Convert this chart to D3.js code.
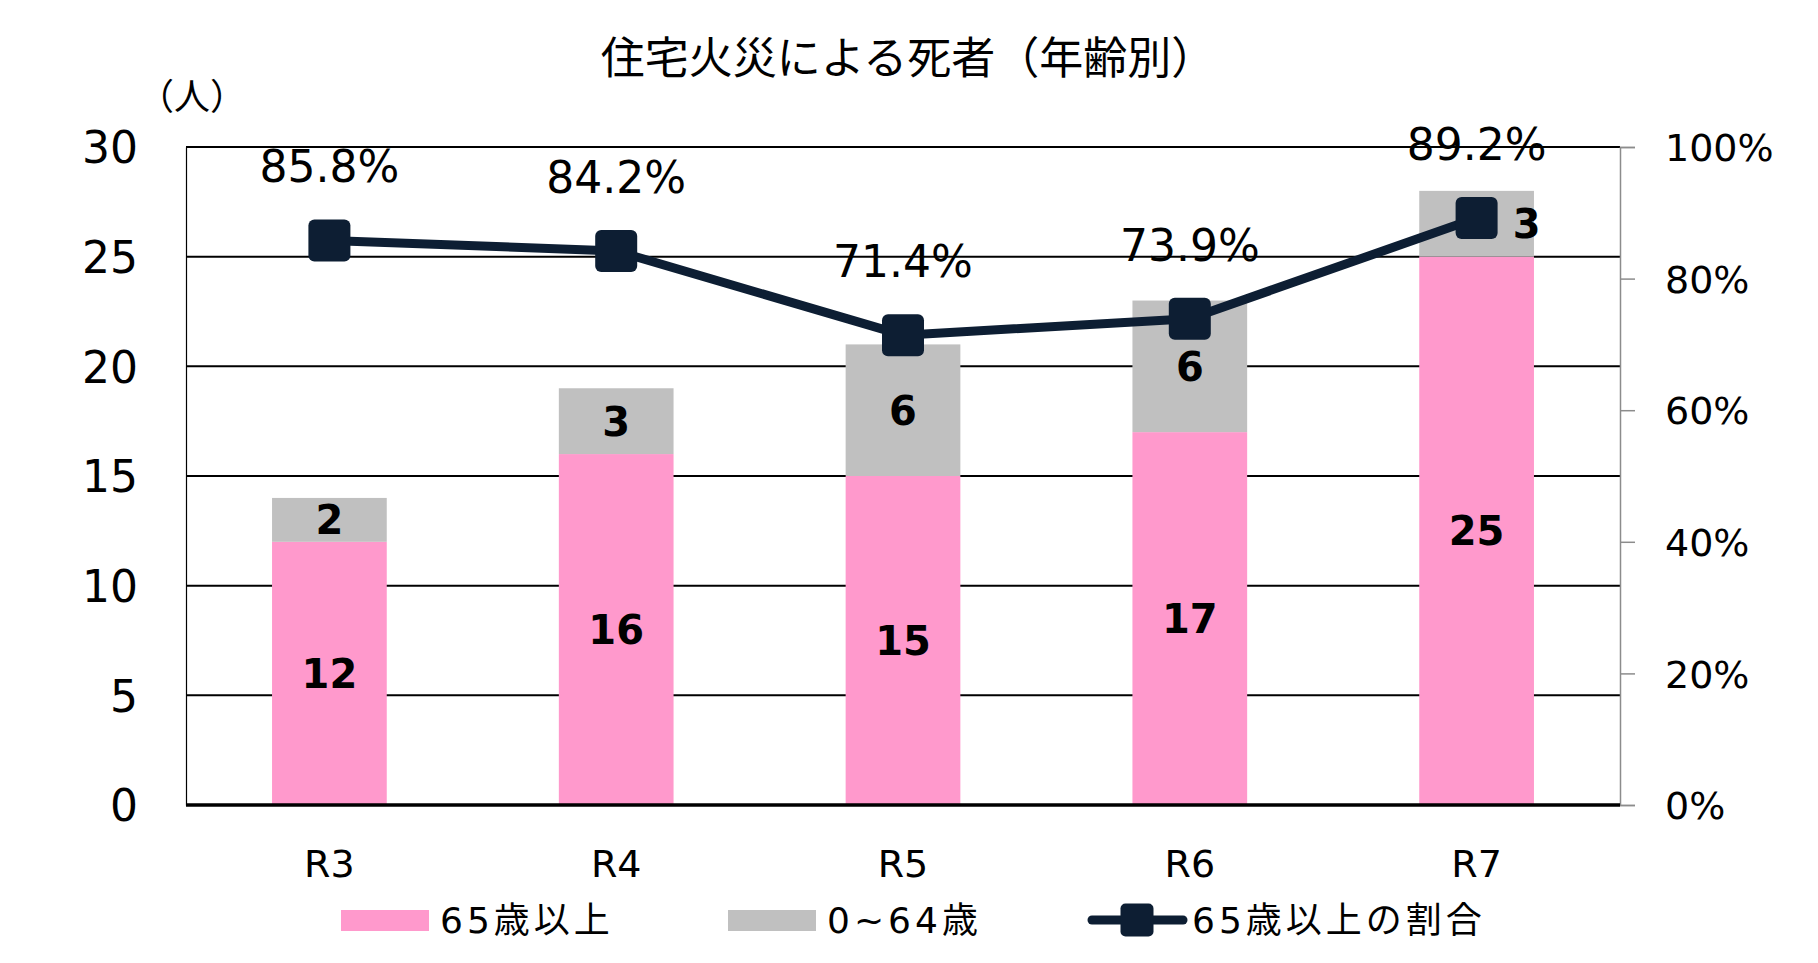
<!DOCTYPE html>
<html>
<head>
<meta charset="utf-8">
<script src="https://cdn.jsdelivr.net/npm/d3@7"></script>
<style>
  body { margin: 0; background: #fff; }
  svg { display: block; }
  text { fill: #000; }
</style>
</head>
<body>
<div id="chart"></div>
<script>
// data
const years = ["R3", "R4", "R5", "R6", "R7"];
const over65 = [12, 16, 15, 17, 25];
const under65 = [2, 3, 6, 6, 3];
const ratio = [0.858, 0.842, 0.714, 0.739, 0.892];
const countTicks = [0, 5, 10, 15, 20, 25, 30];
const ratioTicks = [0, 0.2, 0.4, 0.6, 0.8, 1];

let width = 1818;
let height = 963;
let plotLeft = 186, plotRight = 1620, plotTop = 147, plotBottom = 805;
let latin = "'DejaVu Sans', 'Noto Sans CJK JP', sans-serif";
let cjk = "'Noto Sans CJK JP', 'DejaVu Sans', sans-serif";
let pink = "#ff99cc", grey = "#c0c0c0", navy = "#0d1e33";

let svg = d3.select("#chart").append("svg")
  .attr("width", width)
  .attr("height", height);

let xScale = d3.scaleBand()
  .domain(years)
  .range([plotLeft, plotRight])
  .paddingInner(0.6)
  .paddingOuter(0.3);
let yScale = d3.scaleLinear().domain([0, 30]).range([plotBottom, plotTop]);
let y2Scale = d3.scaleLinear().domain([0, 1]).range([plotBottom, plotTop]);

let rows = years.map(function (d, i) {
  return { year: d, old: over65[i], young: under65[i], ratio: ratio[i] };
});

// gridlines
svg.append("g")
  .selectAll("line")
  .data(countTicks)
  .enter()
  .append("line")
  .attr("x1", plotLeft)
  .attr("x2", plotRight)
  .attr("y1", function (d) { return yScale(d); })
  .attr("y2", function (d) { return yScale(d); })
  .attr("stroke", "#000")
  .attr("stroke-width", 2);

// stacked bars
let bw = xScale.bandwidth();
svg.append("g").selectAll("rect")
  .data(rows).enter()
  .append("rect")
  .attr("x", function (d) { return xScale(d.year); })
  .attr("width", bw)
  .attr("y", function (d) { return yScale(d.old); })
  .attr("height", function (d) { return yScale(0) - yScale(d.old); })
  .attr("fill", pink);
svg.append("g").selectAll("rect")
  .data(rows).enter()
  .append("rect")
  .attr("x", function (d) { return xScale(d.year); })
  .attr("width", bw)
  .attr("y", function (d) { return yScale(d.old + d.young); })
  .attr("height", function (d) { return yScale(d.old) - yScale(d.old + d.young); })
  .attr("fill", grey);

// left axis
let yAxis = d3.axisLeft(yScale).tickValues(countTicks).tickSize(0).tickPadding(48);
let gy = svg.append("g")
  .attr("transform", "translate(" + plotLeft + ",0)")
  .call(yAxis);
gy.select(".domain").attr("stroke", "#000").attr("stroke-width", 1.2);
gy.selectAll("text")
  .attr("dy", "0.36em")
  .style("font-family", latin)
  .style("font-size", "44px");

// right axis
let y2Axis = d3.axisRight(y2Scale).tickValues(ratioTicks)
  .tickFormat(d3.format(".0%")).tickSize(15).tickPadding(30);
let gy2 = svg.append("g")
  .attr("transform", "translate(" + plotRight + ",0)")
  .call(y2Axis);
gy2.select(".domain").attr("stroke", "#8c8c8c").attr("stroke-width", 1.5);
gy2.selectAll(".tick line").attr("stroke", "#8c8c8c").attr("stroke-width", 1.5);
gy2.selectAll("text")
  .attr("dy", "0.36em")
  .style("font-family", latin)
  .style("font-size", "38px");

// bottom axis
let xAxis = d3.axisBottom(xScale).tickSize(0);
let gx = svg.append("g")
  .attr("transform", "translate(0," + plotBottom + ")")
  .call(xAxis);
gx.select(".domain").remove();
gx.selectAll("text")
  .attr("dy", null)
  .attr("y", 72)
  .style("font-family", latin)
  .style("font-size", "38px");
svg.append("line")
  .attr("x1", plotLeft).attr("x2", plotRight)
  .attr("y1", plotBottom).attr("y2", plotBottom)
  .attr("stroke", "#000").attr("stroke-width", 3.5);

// ratio line
function cx(d) { return xScale(d.year) + bw / 2; }
let line = d3.line()
  .x(cx)
  .y(function (d) { return y2Scale(d.ratio); });
svg.append("path")
  .datum(rows)
  .attr("d", line)
  .attr("fill", "none")
  .attr("stroke", navy)
  .attr("stroke-width", 9)
  .attr("stroke-linejoin", "round")
  .attr("stroke-linecap", "round");
let mk = 42;
svg.append("g").selectAll("rect")
  .data(rows).enter()
  .append("rect")
  .attr("x", function (d) { return cx(d) - mk / 2; })
  .attr("y", function (d) { return y2Scale(d.ratio) - mk / 2; })
  .attr("width", mk).attr("height", mk)
  .attr("rx", 6)
  .attr("fill", navy);

// bar labels
let lab = svg.append("g")
  .style("font-family", latin)
  .style("font-size", "40px")
  .style("font-weight", "bold")
  .attr("text-anchor", "middle");
lab.selectAll("text.old")
  .data(rows).enter()
  .append("text")
  .attr("class", "old")
  .attr("x", cx)
  .attr("y", function (d) { return yScale(d.old / 2); })
  .attr("dy", "0.36em")
  .text(function (d) { return d.old; });
lab.selectAll("text.young")
  .data(rows).enter()
  .append("text")
  .attr("class", "young")
  .attr("x", function (d) {
    // move aside when the marker sits on the label
    let ly = yScale(d.old + d.young / 2);
    return Math.abs(ly - y2Scale(d.ratio)) < 30 ? cx(d) + 50 : cx(d);
  })
  .attr("y", function (d) { return yScale(d.old + d.young / 2); })
  .attr("dy", "0.36em")
  .text(function (d) { return d.young; });

// ratio labels
svg.append("g")
  .style("font-family", latin)
  .style("font-size", "44px")
  .attr("text-anchor", "middle")
  .selectAll("text")
  .data(rows).enter()
  .append("text")
  .attr("x", cx)
  .attr("y", function (d) { return y2Scale(d.ratio) - 74; })
  .attr("dy", "0.36em")
  .text(function (d) { return d3.format(".1%")(d.ratio); });

// title and unit
svg.append("text")
  .attr("x", 908).attr("y", 74)
  .attr("text-anchor", "middle")
  .style("font-family", cjk)
  .style("font-size", "44px")
  .text("住宅火災による死者（年齢別）");
svg.append("text")
  .attr("x", 192).attr("y", 110)
  .attr("text-anchor", "middle")
  .style("font-family", cjk)
  .style("font-size", "36px")
  .text("（人）");

// legend
let lg = svg.append("g")
  .style("font-family", latin)
  .style("font-size", "36px")
  .style("letter-spacing", "4px");
lg.append("rect").attr("x", 341).attr("y", 910).attr("width", 88).attr("height", 21).attr("fill", pink);
lg.append("text").attr("x", 440).attr("y", 933).text("65歳以上");
lg.append("rect").attr("x", 728).attr("y", 910).attr("width", 88).attr("height", 21).attr("fill", grey);
lg.append("text").attr("x", 827).attr("y", 933).text("0~64歳");
lg.append("line").attr("x1", 1092).attr("x2", 1183).attr("y1", 920).attr("y2", 920)
  .attr("stroke", navy).attr("stroke-width", 9).attr("stroke-linecap", "round");
lg.append("rect").attr("x", 1137 - 16.5).attr("y", 920 - 16.5).attr("width", 33).attr("height", 33)
  .attr("rx", 5).attr("fill", navy);
lg.append("text").attr("x", 1192).attr("y", 933).text("65歳以上の割合");
</script>
</body>
</html>
